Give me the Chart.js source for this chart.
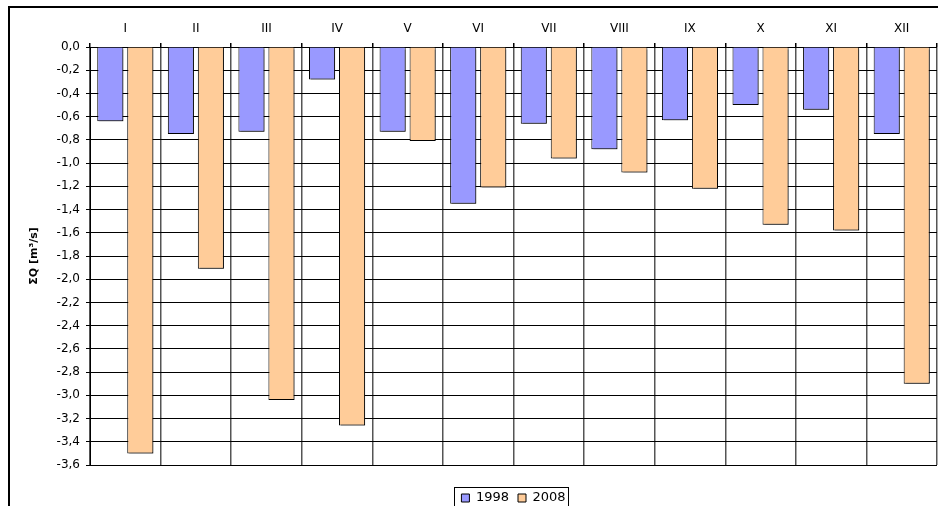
<!DOCTYPE html>
<html>
<head>
<meta charset="utf-8">
<script src="https://cdn.jsdelivr.net/npm/chart.js@4.4.0/dist/chart.umd.min.js"></script>
<style>
  html, body { margin: 0; padding: 0; background: #fff; }
  #wrap { width: 938px; height: 506px; }
</style>
</head>
<body>
<div id="wrap"><canvas id="c"></canvas></div>
<script>
var months = ['I', 'II', 'III', 'IV', 'V', 'VI', 'VII', 'VIII', 'IX', 'X', 'XI', 'XII'];
var q1998 = [-0.64, -0.75, -0.73, -0.28, -0.73, -1.35, -0.66, -0.88, -0.63, -0.50, -0.54, -0.75];
var q2008 = [-3.50, -1.91, -3.04, -3.26, -0.81, -1.21, -0.96, -1.08, -1.22, -1.53, -1.58, -2.90];
var yMin = -3.6, yMax = 0, yStep = 0.2;

// frame round the whole chart (open on right and bottom, like the source)
var framePlugin = {
  id: 'frame',
  beforeDraw: function (chart) {
    var c = chart.ctx;
    c.save();
    c.strokeStyle = '#000';
    c.lineWidth = 2;
    c.beginPath();
    c.moveTo(9, chart.height + 2);
    c.lineTo(9, 7);
    c.lineTo(chart.width + 2, 7);
    c.stroke();
    c.restore();
  }
};

// grey drop shadow under the bars
var shadowPlugin = {
  id: 'barShadow',
  beforeDatasetsDraw: function (chart) {
    var c = chart.ctx;
    c.save();
    c.shadowColor = 'rgba(0,0,0,0.4)';
    c.shadowOffsetX = 2;
    c.shadowOffsetY = 2;
    c.shadowBlur = 0;
  },
  afterDatasetsDraw: function (chart) {
    chart.ctx.restore();
  }
};

// box round the legend
var legendBox = {
  id: 'legendBox',
  afterDraw: function (chart) {
    var lg = chart.legend;
    if (!lg || !lg.legendHitBoxes.length) return;
    var hb = lg.legendHitBoxes;
    var l = Math.min.apply(null, hb.map(function (h) { return h.left; })) - 7;
    var r = Math.max.apply(null, hb.map(function (h) { return h.left + h.width; })) + 3;
    var t = hb[0].top - 5;
    var c = chart.ctx;
    c.save();
    c.strokeStyle = '#000';
    c.lineWidth = 1;
    c.strokeRect(Math.round(l) + 0.5, Math.round(t) + 0.5, Math.round(r - l), chart.height);
    c.restore();
  }
};

new Chart(document.getElementById('c'), {
  type: 'bar',
  data: {
    labels: months,
    datasets: [
      { label: '1998', data: q1998, backgroundColor: '#9999FF', borderColor: '#000', borderWidth: 1 },
      { label: '2008', data: q2008, backgroundColor: '#FFCC99', borderColor: '#000', borderWidth: 1 }
    ]
  },
  options: {
    responsive: true,
    maintainAspectRatio: false,
    animation: false,
    categoryPercentage: 0.85,
    barPercentage: 0.87,
    layout: { padding: { left: 8, top: 7, right: 1, bottom: -8.5 } },
    plugins: {
      tooltip: { enabled: false },
      legend: {
        position: 'bottom',
        fullSize: false,
        title: { display: true, text: '', font: { size: 10 }, padding: { top: 5.5, bottom: 0 } },
        labels: {
          boxWidth: 8, boxHeight: 8, padding: 9, color: '#000',
          font: { family: 'DejaVu Sans', size: 13 }
        }
      }
    },
    scales: {
      x: {
        position: 'top',
        grid: { offset: true, color: '#555', lineWidth: 1.5, tickLength: 4, tickColor: '#000' },
        border: { display: false },
        ticks: { color: '#000', padding: 7, font: { family: 'DejaVu Sans', size: 12 } },
        afterFit: function (s) { s.height = 40; }
      },
      y: {
        min: yMin,
        max: yMax,
        grid: { color: '#000', lineWidth: 1, tickLength: 4 },
        border: { color: '#000', width: 1 },
        ticks: {
          stepSize: yStep, color: '#000', padding: 6,
          font: { family: 'DejaVu Sans', size: 12 },
          callback: function (v) { return (Math.abs(v) < 1e-9 ? 0 : v).toFixed(1).replace('.', ','); }
        },
        title: {
          display: true, text: 'ΣQ [m³/s]', color: '#000',
          font: { family: 'DejaVu Sans', size: 11, weight: 'bold' },
          padding: { top: 20, bottom: 0 }
        },
        afterFit: function (s) { s.width = 82; }
      }
    }
  },
  plugins: [framePlugin, shadowPlugin, legendBox]
});
</script>
</body>
</html>
